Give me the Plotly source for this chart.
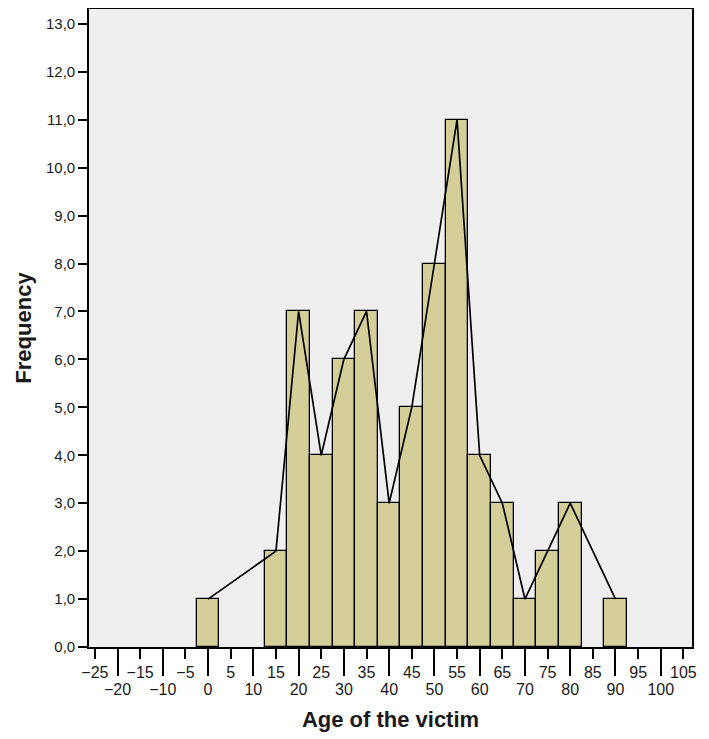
import plotly.graph_objects as go

# Data
age_bins = [0, 15, 20, 25, 30, 35, 40, 45, 50, 55, 60, 65, 70, 75, 80, 90]
frequency = [1, 2, 7, 4, 6, 7, 3, 5, 8, 11, 4, 3, 1, 2, 3, 1]
bin_width = 5

odd_ticks = [-25, -15, -5, 5, 15, 25, 35, 45, 55, 65, 75, 85, 95, 105]
even_ticks = [-20, -10, 0, 10, 20, 30, 40, 50, 60, 70, 80, 90, 100]
y_ticks = list(range(0, 14))

x_range = [-26.3, 106.9]
y_range = [0, 13.31]

font_family = "Arial, Liberation Sans, sans-serif"
text_color = "#1a1a1a"

fig = go.Figure()
fig.add_trace(go.Bar(
    x=age_bins, y=frequency, width=bin_width,
    marker=dict(color="#d4cf99", line=dict(color="black", width=1.3)),
    showlegend=False, hoverinfo="x+y",
))
fig.add_trace(go.Scatter(
    x=age_bins, y=frequency, mode="lines",
    line=dict(color="black", width=1.7),
    showlegend=False,
))
# invisible trace to activate the secondary x axis used for the long ticks
fig.add_trace(go.Scatter(x=[age_bins[0]], y=[frequency[0]], xaxis="x2",
                         mode="markers", marker=dict(opacity=0),
                         showlegend=False, hoverinfo="skip"))

fig.update_layout(
    width=701, height=731,
    margin=dict(l=81, r=17, t=1, b=92),
    paper_bgcolor="white",
    plot_bgcolor="#efefef",
    separators=",.",
    font=dict(family=font_family, color=text_color),
    bargap=0,
    xaxis=dict(
        range=x_range, tickmode="array", tickvals=odd_ticks,
        ticks="outside", ticklen=10, tickwidth=1.8, tickcolor="black",
        showline=True, linecolor="black", linewidth=1.6, mirror=True,
        showgrid=False, zeroline=False,
        tickfont=dict(size=16, family=font_family, color=text_color),
        automargin=False,
    ),
    xaxis2=dict(
        range=x_range, overlaying="x", anchor="y", side="bottom",
        tickmode="array", tickvals=even_ticks,
        ticks="outside", ticklen=28, tickwidth=1.8, tickcolor="black",
        showline=False, showgrid=False, zeroline=False,
        tickfont=dict(size=16, family=font_family, color=text_color),
        title=dict(text="<b>Age of the victim</b>",
                   font=dict(size=22, family=font_family, color=text_color),
                   standoff=14),
        automargin=False,
    ),
    yaxis=dict(
        range=y_range, tickmode="array", tickvals=y_ticks, tickformat=".1f",
        ticks="outside", ticklen=9, tickwidth=1.8, tickcolor="black",
        showline=True, linecolor="black", linewidth=1.6, mirror=True,
        showgrid=False, zeroline=False,
        tickfont=dict(size=15, family=font_family, color=text_color),
        title=dict(text="<b>Frequency</b>",
                   font=dict(size=22, family=font_family, color=text_color),
                   standoff=8),
        automargin=False,
    ),
)

fig.write_html("out.html")
